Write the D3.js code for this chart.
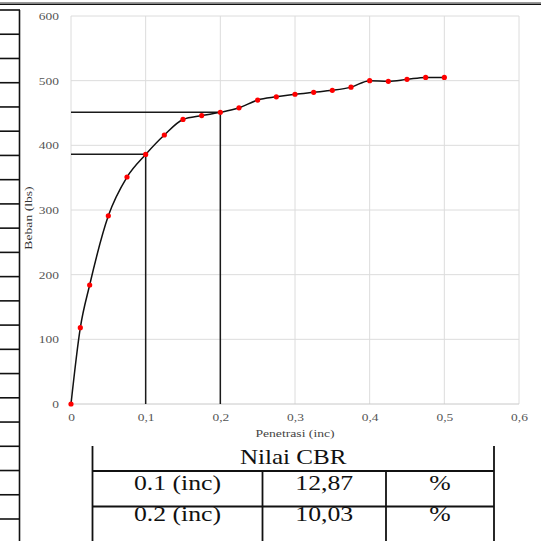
<!DOCTYPE html>
<html><head><meta charset="utf-8">
<script src="https://cdn.jsdelivr.net/npm/d3@7"></script>
<style>html,body{margin:0;padding:0;background:#fff;}svg{display:block;}</style>
</head><body>
<svg id="c" width="541" height="541"></svg>
<script>
const penetrasi = [0, 0.0125, 0.025, 0.05, 0.075, 0.1, 0.125, 0.15, 0.175, 0.2, 0.225, 0.25, 0.275, 0.3, 0.325, 0.35, 0.375, 0.4, 0.425, 0.45, 0.475, 0.5];
const beban = [0, 118, 184, 291, 351, 386, 416, 440, 446, 451, 458, 470, 475, 479, 482, 485, 490, 500, 499, 502, 505, 505];
const xTicks = [0, 0.1, 0.2, 0.3, 0.4, 0.5, 0.6];
const yTicks = [0, 100, 200, 300, 400, 500, 600];
const cbrPen = [0.1, 0.2];
const cbrLoad = [386.1, 451.35];
const cbrLabels = ["0.1 (inc)", "0.2 (inc)"];
const cbrValues = ["12,87", "10,03"];
const cbrUnits = ["%", "%"];
const tableTitle = "Nilai CBR";
const xTitle = "Penetrasi (inc)";
const yTitle = "Beban (lbs)";

const svg = d3.select("#c");
const FONT = "'Liberation Serif','Times New Roman',serif";
const x = d3.scaleLinear().domain([0, 0.6]).range([71, 519]);
const y = d3.scaleLinear().domain([0, 600]).range([404, 16]);

function stretch(sel, f) {
  sel.each(function() {
    const l = this.getComputedTextLength();
    d3.select(this).attr("textLength", l * f).attr("lengthAdjust", "spacingAndGlyphs");
  });
}

// top rule
svg.append("line").attr("x1", 0).attr("x2", 541).attr("y1", 2.5).attr("y2", 2.5).attr("stroke", "#999").attr("stroke-width", 1);
svg.append("line").attr("x1", 0).attr("x2", 541).attr("y1", 4.2).attr("y2", 4.2).attr("stroke", "#111").attr("stroke-width", 1.4);

// left decorative cut-off table column
const leftRows = d3.range(22);
const rowY = d3.scaleLinear().domain([0, 21]).range([10, 519]);
svg.append("line").attr("x1", 19.5).attr("x2", 19.5).attr("y1", 10).attr("y2", 541).attr("stroke", "#111").attr("stroke-width", 1.6);
svg.selectAll("line.lr").data(leftRows).join("line").attr("class", "lr")
  .attr("x1", 0).attr("x2", 20).attr("y1", d => rowY(d)).attr("y2", d => rowY(d))
  .attr("stroke", "#111").attr("stroke-width", 1.6);

// grid
const grid = svg.append("g");
grid.selectAll("line.gx").data(xTicks).join("line").attr("class", "gx")
  .attr("x1", d => x(d)).attr("x2", d => x(d)).attr("y1", y(600)).attr("y2", y(0))
  .attr("stroke", "#dcdcdc").attr("stroke-width", 1);
grid.selectAll("line.gy").data(yTicks).join("line").attr("class", "gy")
  .attr("x1", x(0)).attr("x2", x(0.6)).attr("y1", d => y(d)).attr("y2", d => y(d))
  .attr("stroke", d => d === 0 ? "#c8c8c8" : "#dcdcdc").attr("stroke-width", 1);

// axes labels via d3 axes (no domain/ticks lines)
const fmtX = d => d === 0 ? "0" : d3.format(".1f")(d).replace(".", ",");
const gx = svg.append("g").attr("transform", `translate(0,${y(0)})`)
  .call(d3.axisBottom(x).tickValues(xTicks).tickFormat(fmtX).tickSize(0).tickPadding(10));
const gy = svg.append("g").attr("transform", `translate(${x(0)},0)`)
  .call(d3.axisLeft(y).tickValues(yTicks).tickSize(0).tickPadding(12));
[gx, gy].forEach(g => {
  g.select(".domain").remove();
  g.selectAll("text").attr("font-family", FONT).attr("font-size", 10.5).attr("fill", "#555");
  stretch(g.selectAll("text"), 1.28);
});

// axis titles
const xt = svg.append("text").attr("x", 295).attr("y", 437).attr("text-anchor", "middle")
  .attr("font-family", FONT).attr("font-size", 10.5).attr("fill", "#444").text(xTitle);
stretch(xt, 1.3);
const yt = svg.append("text").attr("transform", "translate(32,218) rotate(-90)").attr("text-anchor", "middle")
  .attr("font-family", FONT).attr("font-size", 10.5).attr("fill", "#333").text(yTitle);
stretch(yt, 1.3);

// CBR reference lines
const refs = cbrPen.map((p, i) => ({p, l: cbrLoad[i]}));
svg.selectAll("path.ref").data(refs).join("path").attr("class", "ref")
  .attr("d", d => `M${x(0)},${y(d.l)}H${x(d.p)}V${y(0)}`)
  .attr("fill", "none").attr("stroke", "#1a1a1a").attr("stroke-width", 1.5);

// curve
const pts = penetrasi.map((p, i) => ({p, b: beban[i]}));
svg.append("path").datum(pts)
  .attr("d", d3.line().x(d => x(d.p)).y(d => y(d.b)).curve(d3.curveMonotoneX))
  .attr("fill", "none").attr("stroke", "#111").attr("stroke-width", 1.5);
svg.selectAll("circle.pt").data(pts).join("circle").attr("class", "pt")
  .attr("cx", d => x(d.p)).attr("cy", d => y(d.b)).attr("r", 2.6).attr("fill", "#ff0000");

// bottom CBR table
const tb = svg.append("g");
const tL = 92.5, tR = 494, c1 = 262.5, c2 = 386, r0 = 446, r1 = 471, r2 = 506.5, rB = 541;
const ls = [
  [tL, r0, tL, rB], [tR, r0, tR, rB],
  [tL, r1, tR, r1], [tL, r2, tR, r2],
  [c1, r1, c1, rB], [c2, r1, c2, rB]
];
tb.selectAll("line").data(ls).join("line")
  .attr("x1", d => d[0]).attr("y1", d => d[1]).attr("x2", d => d[2]).attr("y2", d => d[3])
  .attr("stroke", "#111").attr("stroke-width", 1.8);
const tt = tb.append("text").attr("x", (tL + tR) / 2).attr("y", 463.5).attr("text-anchor", "middle")
  .attr("font-family", FONT).attr("font-size", 22).attr("fill", "#111").text(tableTitle);
stretch(tt, 1.14);
const rowBase = [489.5, 521];
const cols = [[cbrLabels, (tL + c1) / 2], [cbrValues, (c1 + c2) / 2], [cbrUnits, (c2 + tR) / 2]];
cols.forEach(([arr, cx]) => {
  const t = tb.selectAll(null).data(arr).join("text")
    .attr("x", cx).attr("y", (d, i) => rowBase[i]).attr("text-anchor", "middle")
    .attr("font-family", FONT).attr("font-size", 22).attr("fill", "#111").text(d => d);
  stretch(t, 1.17);
});
</script>
</body></html>
